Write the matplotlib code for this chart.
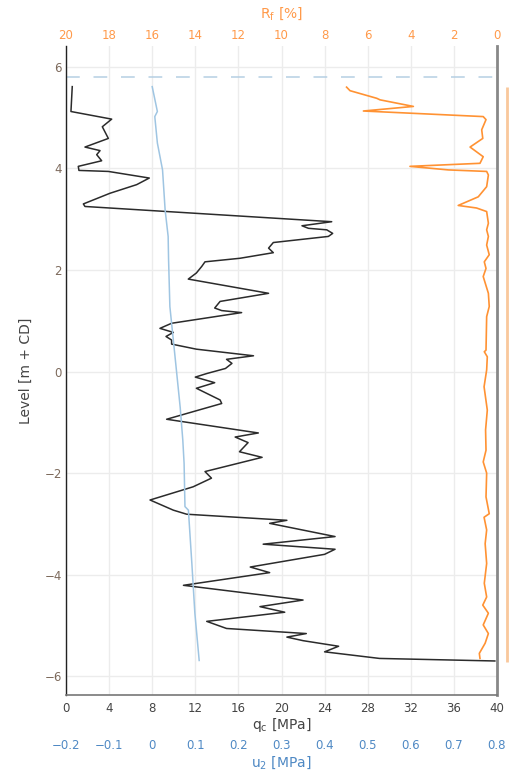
import matplotlib
matplotlib.use("Agg")
import matplotlib.pyplot as plt
import matplotlib.transforms as mtransforms

# ---------------- data ----------------
qc_level = [5.61, 5.12, 4.97, 4.82, 4.59, 4.42, 4.35, 4.27, 4.15, 4.04, 3.96, 3.94, 3.81, 3.68,
            3.51, 3.30, 3.25, 2.95, 2.87, 2.82, 2.79, 2.72, 2.66, 2.54, 2.43, 2.34, 2.23, 2.16,
            2.07, 1.94, 1.82, 1.54, 1.38, 1.25, 1.20, 1.16, 0.95, 0.85, 0.77, 0.69, 0.62, 0.54,
            0.44, 0.31, 0.24, 0.16, 0.06, -0.04, -0.11, -0.22, -0.33, -0.56, -0.63, -0.76, -0.94,
            -1.21, -1.29, -1.40, -1.58, -1.69, -1.97, -2.10, -2.27, -2.53, -2.73, -2.81, -2.93,
            -2.99, -3.25, -3.40, -3.50, -3.60, -3.85, -3.96, -4.21, -4.50, -4.63, -4.74, -4.92,
            -5.06, -5.16, -5.23, -5.30, -5.41, -5.52, -5.65, -5.70]
qc_values = [0.58, 0.46, 4.24, 3.37, 3.93, 1.76, 3.16, 2.85, 3.31, 1.14, 1.20, 3.93, 7.73, 6.56,
             4.08, 1.61, 1.76, 24.66, 21.9, 22.5, 24.2, 24.75, 24.35, 19.24, 18.8, 19.24, 16.15, 12.9,
             12.6, 12.1, 11.35, 18.8, 14.3, 13.8, 14.45, 16.3, 9.8, 8.72, 9.96, 9.28, 9.8, 9.8,
             12.1, 17.4, 14.9, 15.4, 14.8, 13.06, 12.0, 13.8, 12.1, 14.3, 14.45, 12.3, 9.34,
             17.85, 15.7, 16.9, 16.1, 18.2, 12.9, 13.5, 11.8, 7.8, 9.96, 11.2, 20.5,
             18.9, 24.97, 18.3, 24.97, 24.0, 17.1, 18.9, 10.9, 22.0, 18.0, 20.3, 13.06,
             14.9, 22.3, 20.5, 22.0, 25.3, 24.0, 29.1, 39.8]

u2_level = [5.61, 5.12, 5.02, 4.50, 3.97, 3.18, 2.66, 2.20, 1.28, 0.29, -0.71, -1.35, -1.81,
            -2.66, -2.73, -3.78, -4.76, -5.69]
u2_values = [0.000, 0.012, 0.006, 0.012, 0.024, 0.030, 0.037, 0.038, 0.041, 0.053, 0.065, 0.071,
             0.074, 0.076, 0.084, 0.092, 0.099, 0.109]

rf_level = [5.60, 5.53, 5.38, 5.35, 5.22, 5.13, 5.02, 4.96, 4.76, 4.59, 4.42, 4.23, 4.10, 4.04,
            3.97, 3.94, 3.87, 3.64, 3.44, 3.27, 3.22, 3.15, 2.92, 2.79, 2.66, 2.49, 2.30, 2.16,
            2.03, 1.87, 1.54, 1.28, 1.08, 0.42, 0.39, 0.29, 0.03, -0.30, -0.76, -1.15, -1.55,
            -1.78, -2.00, -2.47, -2.80, -2.87, -3.12, -3.39, -3.78, -4.17, -4.44, -4.60, -4.76,
            -4.99, -5.16, -5.35, -5.55, -5.65]
rf_values = [6.98, 6.82, 5.58, 5.43, 3.88, 6.20, 0.64, 0.51, 0.71, 0.66, 1.25, 0.64, 0.79, 4.04,
             2.26, 0.48, 0.40, 0.48, 0.87, 1.80, 0.95, 0.48, 0.40, 0.48, 0.40, 0.48, 0.36, 0.59,
             0.51, 0.64, 0.40, 0.36, 0.48, 0.51, 0.59, 0.45, 0.48, 0.60, 0.45, 0.53, 0.51,
             0.64, 0.48, 0.51, 0.36, 0.60, 0.48, 0.55, 0.48, 0.59, 0.48, 0.66, 0.40,
             0.64, 0.40, 0.55, 0.82, 0.79]

water_level = 5.8
side_bar_levels = [5.6, -5.72]

qc_ticks = [0, 4, 8, 12, 16, 20, 24, 28, 32, 36, 40]
rf_ticks = [20, 18, 16, 14, 12, 10, 8, 6, 4, 2, 0]
u2_ticks = [-0.2, -0.1, 0, 0.1, 0.2, 0.3, 0.4, 0.5, 0.6, 0.7, 0.8]
level_ticks = [6, 4, 2, 0, -2, -4, -6]

# ---------------- style ----------------
C_QC = "#2b2b2b"
C_U2 = "#9fc5e2"
C_RF = "#ff9233"
C_RF_TXT = "#ff9a4a"
C_U2_TXT = "#4f89c4"
C_TXT = "#444444"
C_GRID = "#ececec"

fig = plt.figure(figsize=(5.22, 7.73), dpi=100)
ax = fig.add_axes([66 / 522, 1 - 695 / 773, 431 / 522, 649 / 773])

ax.set_xlim(0, 40)
ax.set_ylim(-6.37, 6.41)
ax.set_xticks(qc_ticks)
ax.set_yticks(level_ticks)
ax.grid(True, color=C_GRID, linewidth=1.0)
ax.set_axisbelow(True)
ax.tick_params(axis="x", length=0, labelsize=8.5, colors=C_TXT, pad=5)
ax.tick_params(axis="y", length=0, labelsize=8.5, colors="#7d6a5c", pad=3)
ax.set_yticklabels([("\u2212" + str(-t)) if t < 0 else str(t) for t in level_ticks])
ax.set_xlabel(r"q$_\mathrm{c}$ [MPa]", fontsize=10, color=C_TXT, labelpad=1)
ax.set_ylabel("Level [m + CD]", fontsize=10, color=C_TXT, labelpad=8)

ax.spines["top"].set_visible(False)
ax.spines["left"].set_color("#222222")
ax.spines["left"].set_linewidth(1.0)
ax.spines["bottom"].set_color("#777777")
ax.spines["bottom"].set_linewidth(1.2)
ax.spines["right"].set_color("#888888")
ax.spines["right"].set_linewidth(2.0)

# water level dashed line
ax.axhline(water_level, color="#b5cfe3", linewidth=1.1, linestyle=(0, (9, 9)), zorder=1)

# qc curve
ax.plot(qc_values, qc_level, color=C_QC, linewidth=1.1, zorder=4)

# Rf axis (top, reversed)
ax_rf = ax.twiny()
ax_rf.set_xlim(20, 0)
ax_rf.set_xticks(rf_ticks)
ax_rf.tick_params(axis="x", length=0, labelsize=8.5, colors=C_RF_TXT, pad=3)
ax_rf.set_xlabel(r"R$_\mathrm{f}$ [%]", fontsize=10, color=C_RF_TXT, labelpad=8)
for s in ax_rf.spines.values():
    s.set_visible(False)
ax_rf.plot(rf_values, rf_level, color=C_RF, linewidth=1.2, zorder=3)

# u2 axis (second bottom axis)
ax_u2 = ax.twiny()
ax_u2.xaxis.set_ticks_position("bottom")
ax_u2.xaxis.set_label_position("bottom")
ax_u2.spines["bottom"].set_position(("outward", 30))
for s in ax_u2.spines.values():
    s.set_visible(False)
ax_u2.set_xlim(-0.2, 0.8)
ax_u2.set_xticks(u2_ticks)
ax_u2.set_xticklabels([("\u2212" + f"{-t:g}") if t < 0 else f"{t:g}" for t in u2_ticks])
ax_u2.tick_params(axis="x", length=0, labelsize=8.5, colors=C_U2_TXT, pad=2)
ax_u2.set_xlabel(r"u$_2$ [MPa]", fontsize=10, color=C_U2_TXT, labelpad=1)
ax_u2.plot(u2_values, u2_level, color=C_U2, linewidth=1.1, zorder=2)

# side bar to the right of the plot
trans = mtransforms.blended_transform_factory(ax.transAxes, ax.transData)
ax.plot([1.0232, 1.0232], side_bar_levels, transform=trans, color="#f9c89c",
        linewidth=2.0, clip_on=False, solid_capstyle="butt")

fig.savefig("out.png", dpi=100)
